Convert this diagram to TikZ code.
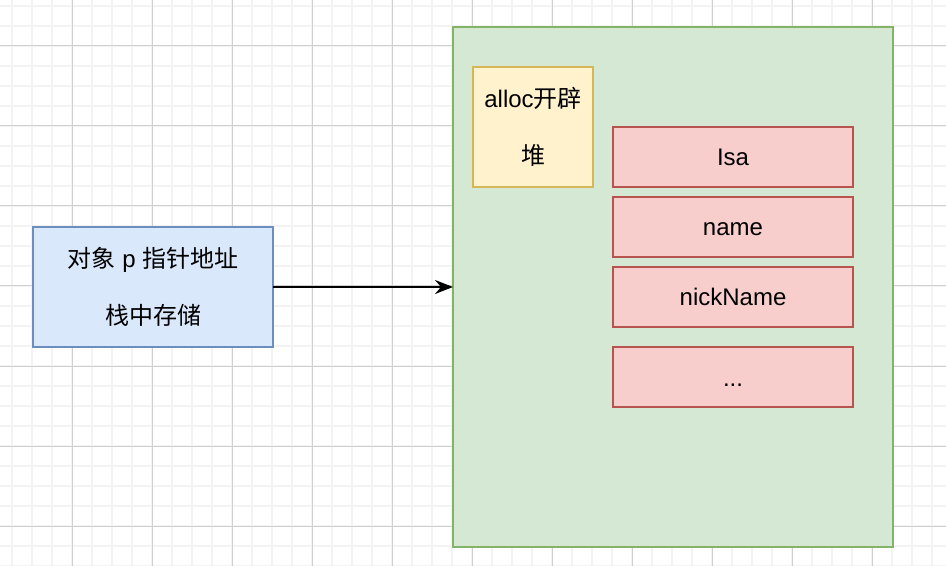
\documentclass[tikz,border=0pt]{standalone}
\usepackage{fontspec}
\setmainfont{Liberation Sans}
\newfontfamily\cjk{Noto Sans CJK SC}
\usetikzlibrary{positioning, arrows.meta}

\definecolor{stackfill}{HTML}{DAE8FC}
\definecolor{stackline}{HTML}{6C8EBF}
\definecolor{heapfill}{HTML}{D5E8D4}
\definecolor{heapline}{HTML}{82B366}
\definecolor{allocfill}{HTML}{FFF2CC}
\definecolor{allocline}{HTML}{D6B656}
\definecolor{fieldfill}{HTML}{F8CECC}
\definecolor{fieldline}{HTML}{B85450}
\definecolor{gridminor}{HTML}{F3F3F3}
\definecolor{gridmajor}{HTML}{D0D0D0}

\tikzset{
  cell/.style={draw, line width=1pt, outer sep=0pt, inner sep=0pt, align=center,
    font=\fontsize{12}{14.4}\selectfont},
  stackbox/.style={cell, fill=stackfill, draw=stackline, minimum width=120pt, minimum height=60pt},
  heapbox/.style={cell, fill=heapfill, draw=heapline, minimum width=220pt, minimum height=260pt},
  allocbox/.style={cell, fill=allocfill, draw=allocline, minimum width=60pt, minimum height=60pt},
  fieldbox/.style={cell, fill=fieldfill, draw=fieldline, minimum width=120pt, minimum height=30pt,
    text height=11pt, text depth=2pt},
  pointer/.style={-{Stealth[length=9pt, width=7pt, inset=3pt]}, line width=1pt, black}
}

\begin{document}
\begin{tikzpicture}[x=0.5pt, y=-0.5pt]
  \useasboundingbox (0,0) rectangle (946,566);
  % background grid
  \begin{scope}
    \clip (0,0) rectangle (946,566);
    \foreach \x in {12,32,...,932} \draw[gridminor, line width=0.8pt] (\x,0) -- (\x,566);
    \foreach \y in {6,26,...,566} \draw[gridminor, line width=0.8pt] (0,\y) -- (946,\y);
    \foreach \x in {72,152,...,872} \draw[gridmajor, line width=0.5pt] (\x,0) -- (\x,566);
    \foreach \y in {46,126,...,526} \draw[gridmajor, line width=0.5pt] (0,\y) -- (946,\y);
  \end{scope}

  % stack and heap
  \node[stackbox] (stack) at (153,287) {{\cjk 对象} p {\cjk 指针地址}\\[14.4pt]{\cjk 栈中存储}};
  \node[heapbox] (heap) at (673,287) {};
  \node[allocbox] (alloc) at (533,127) {alloc{\cjk 开辟}\\[14.4pt]{\cjk 堆}};

  % object fields
  \node[fieldbox] (isa) at (733,157) {Isa};
  \node[fieldbox] (name) [below=5pt of isa] {name};
  \node[fieldbox] (nick) [below=5pt of name] {nickName};
  \node[fieldbox] (more) [below=10pt of nick] {...};

  \draw[pointer] (stack) -- (heap);
\end{tikzpicture}
\end{document}
